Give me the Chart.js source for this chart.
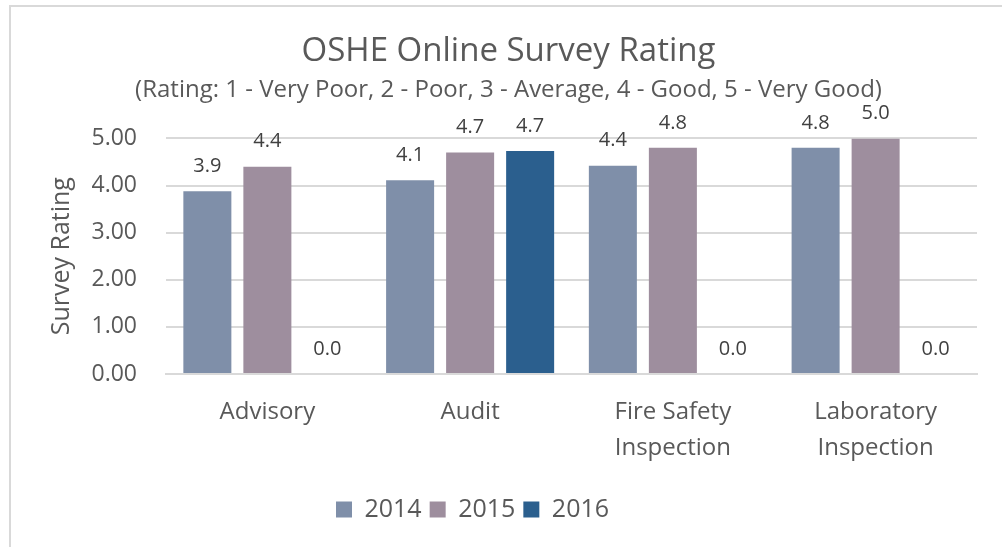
<!DOCTYPE html>
<html>
<head>
<meta charset="utf-8">
<script src="https://cdn.jsdelivr.net/npm/chart.js@4"></script>
<style>
  html, body { margin: 0; padding: 0; background: #fff; }
  .wrap { position: relative; width: 1002px; height: 547px; overflow: hidden; }
  .frame {
    position: absolute; left: 9px; top: 5px; width: 1100px; height: 700px;
    border-left: 2px solid #d9d9d9; border-top: 2px solid #d9d9d9;
  }
  canvas { position: absolute; left: 0; top: 0; }
</style>
</head>
<body>
<div class="wrap">
  <div class="frame"></div>
  <canvas id="ratingChart" width="1002" height="547"></canvas>
</div>
<script>
const categories = ["Advisory", "Audit", ["Fire Safety", "Inspection"], ["Laboratory", "Inspection"]];
const years = ["2014", "2015", "2016"];
const rating2014 = [3.88, 4.11, 4.42, 4.8];
const rating2015 = [4.4, 4.7, 4.8, 5.0];
const rating2016 = [0, 4.73, 0, 0];
const yTicks = [0, 1, 2, 3, 4, 5];

const colors = ["#7f8fa9", "#9e8e9e", "#2b5f8e"];
const textGrey = "#595959";
const fontFamily = "'Open Sans', 'Noto Sans', sans-serif";

let chart;

// draws the value above each bar, like Excel data labels
const valueLabels = {
  id: "valueLabels",
  afterDatasetsDraw(c) {
    const ctx = c.ctx;
    ctx.save();
    ctx.font = `20px ${fontFamily}`;
    ctx.fillStyle = "#404040";
    ctx.textAlign = "center";
    ctx.textBaseline = "middle";
    c.data.datasets.forEach((ds, i) => {
      const meta = c.getDatasetMeta(i);
      meta.data.forEach((bar, j) => {
        ctx.fillText(ds.data[j].toFixed(1), bar.x, bar.y - 25);
      });
    });
    ctx.restore();
  },
};

// the Excel legend sits a bit left of the centre
const legendShift = {
  id: "legendShift",
  afterLayout(c) {
    c.legend.left -= 36;
    c.legend.right -= 36;
  },
};

document.addEventListener("DOMContentLoaded", () => {
  initChart();
});

function initChart() {
  const ctx = document.getElementById("ratingChart").getContext("2d");
  const series = [rating2014, rating2015, rating2016];

  chart = new Chart(ctx, {
    type: "bar",
    data: {
      labels: categories,
      datasets: years.map((y, i) => ({
        label: y,
        data: series[i],
        backgroundColor: colors[i],
        categoryPercentage: 0.888,
        barPercentage: 0.8,
      })),
    },
    options: {
      responsive: false,
      animation: false,
      layout: { padding: { top: 22, left: 40, right: 25, bottom: 15 } },
      scales: {
        y: {
          min: 0,
          max: 5,
          afterFit: (s) => { s.width = 126; },
          afterBuildTicks: (s) => { s.ticks = yTicks.map((v) => ({ value: v })); },
          ticks: {
            padding: 29,
            color: textGrey,
            font: { family: fontFamily, size: 23 },
            callback: (v) => Number(v).toFixed(2),
          },
          grid: { color: "#d9d9d9", lineWidth: 2, drawTicks: false },
          border: { display: false },
          title: {
            display: true,
            text: "Survey Rating",
            color: textGrey,
            font: { family: fontFamily, size: 25 },
            padding: { top: 7, bottom: 0 },
          },
        },
        x: {
          afterFit: (s) => { s.height = 115; },
          ticks: {
            padding: 20,
            color: textGrey,
            font: { family: fontFamily, size: 24, lineHeight: 1.5 },
          },
          grid: { display: false, drawTicks: false },
          border: { display: true, color: "#d9d9d9", width: 2 },
        },
      },
      plugins: {
        title: {
          display: true,
          text: "OSHE Online Survey Rating",
          color: textGrey,
          font: { family: fontFamily, size: 33, weight: "normal", lineHeight: 1.2 },
          padding: { top: 10, bottom: 4 },
        },
        subtitle: {
          display: true,
          text: "(Rating: 1 - Very Poor, 2 - Poor, 3 - Average, 4 - Good, 5 - Very Good)",
          color: textGrey,
          font: { family: fontFamily, size: 24, lineHeight: 1.2 },
          padding: { top: 0, bottom: 34 },
        },
        legend: {
          position: "bottom",
          labels: {
            color: textGrey,
            font: { family: fontFamily, size: 25 },
            boxWidth: 16,
            boxHeight: 16,
            padding: 8,
          },
        },
        tooltip: { enabled: false },
      },
    },
    plugins: [valueLabels, legendShift],
  });
}
</script>
</body>
</html>
